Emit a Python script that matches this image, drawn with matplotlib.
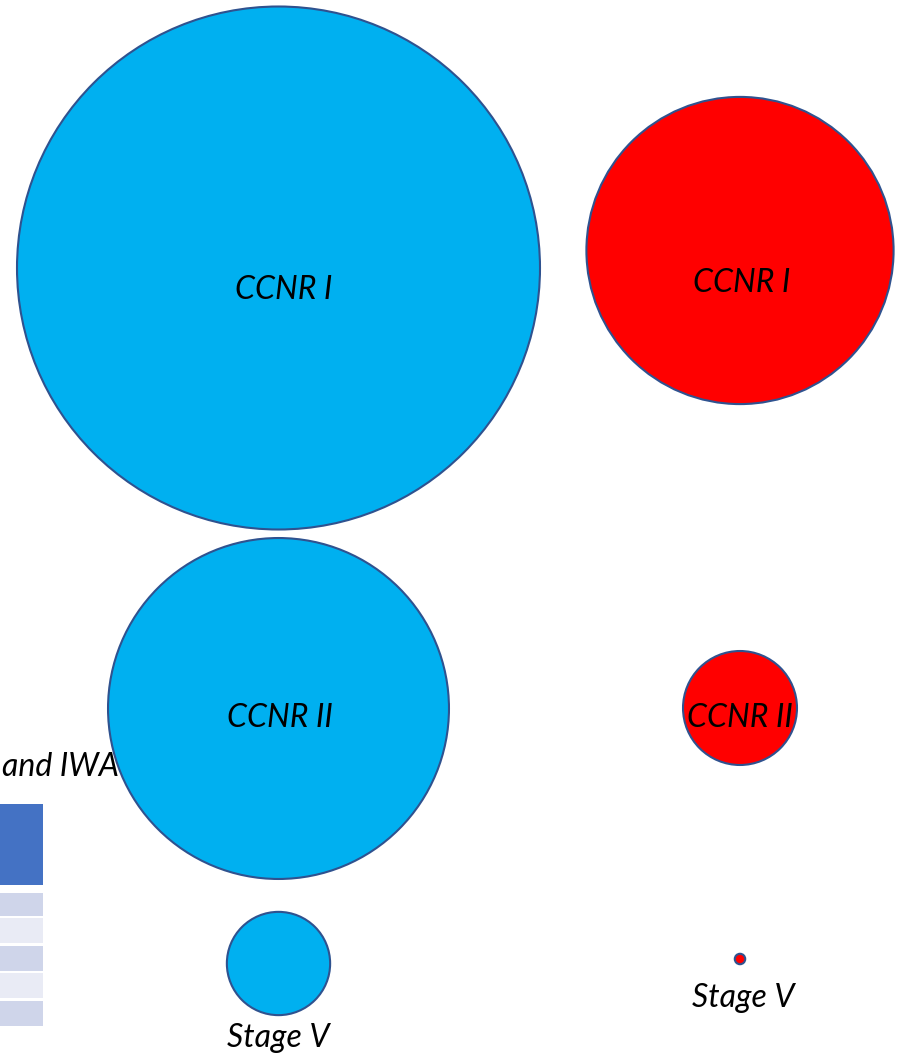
import matplotlib.pyplot as plt
from matplotlib.patches import Circle, Rectangle
import numpy as np

# bubble values (relative area, CCNR I blue = 100)
stages = ['CCNR I', 'CCNR II', 'Stage V']
blue_vals = [100.0, 42.5, 3.9]
red_vals = [34.5, 4.75, 0.04]

# left table fragment colours (header + striped rows)
table_rows = ['#4472C4', '#CFD5EA', '#E9EBF5', '#CFD5EA', '#E9EBF5', '#CFD5EA']
table_title = 'and IWA'

W, H = 904, 1056
fig = plt.figure(figsize=(W / 100, H / 100), dpi=100)
ax = fig.add_axes([0, 0, 1, 1])
ax.set_xlim(0, W)
ax.set_ylim(H, 0)
ax.set_aspect('equal')
ax.axis('off')

rmax = 261.5
font = dict(family=['Lato', 'DejaVu Sans'], style='italic', fontsize=23)

# left column (blue)
bx = 278.5
by = [268, 708.5, 963.5]
for i, s in enumerate(stages):
    r = rmax * np.sqrt(blue_vals[i] / 100)
    ax.add_patch(Circle((bx, by[i]), r, facecolor='#00B0F0', edgecolor='#2F528F', lw=1.5))
ax.text(284, 290, 'CCNR I', ha='center', va='center', **font)
ax.text(280, 718, 'CCNR II', ha='center', va='center', **font)
ax.text(278, 1038, 'Stage V', ha='center', va='center', **font)

# right column (red)
rx = 740
ry = [250.5, 708, 959]
for i, s in enumerate(stages):
    r = rmax * np.sqrt(red_vals[i] / 100)
    ax.add_patch(Circle((rx, ry[i]), r, facecolor='#FF0000', edgecolor='#2F528F', lw=1.5))
ax.text(742, 283, 'CCNR I', ha='center', va='center', **font)
ax.text(740, 718, 'CCNR II', ha='center', va='center', **font)
ax.text(743, 998, 'Stage V', ha='center', va='center', **font)

# cut-off table on the left edge
ax.text(2, 767, table_title, ha='left', va='center', **font)
row_y = [804, 893, 918, 946, 973, 1001]
row_h = [81, 23, 25, 25, 25, 25]
for c, y0, h in zip(table_rows, row_y, row_h):
    ax.add_patch(Rectangle((-10, y0), 53, h, facecolor=c, edgecolor='none'))

fig.savefig('out.png', dpi=100)
